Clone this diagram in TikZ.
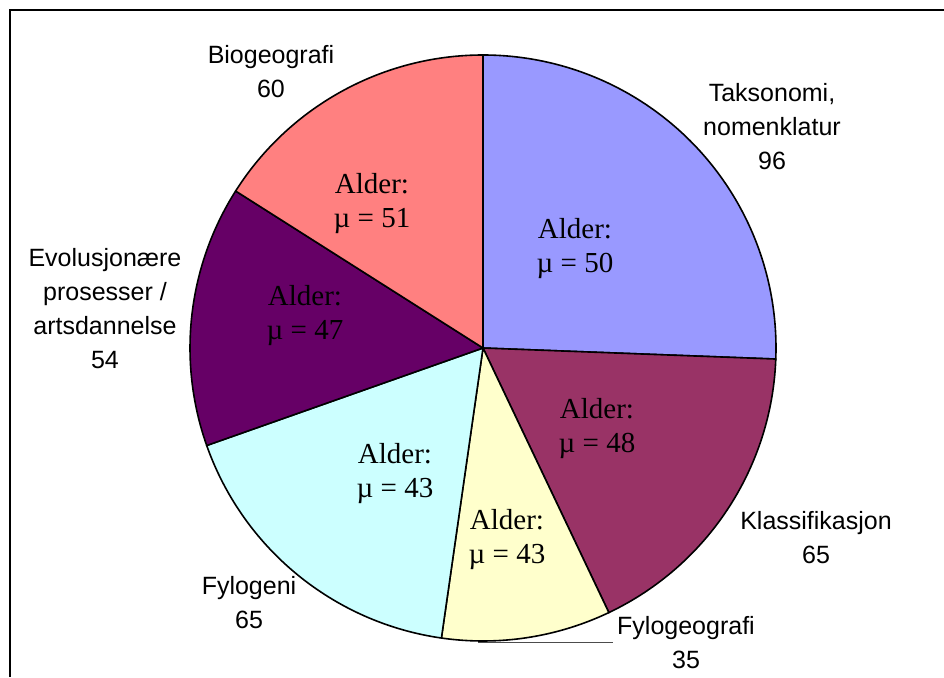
\documentclass[tikz,border=0pt]{standalone}
\usepackage{fontspec}
\setmainfont{Liberation Sans}
\newfontfamily\tmsfont{Liberation Serif}
\definecolor{taks}{HTML}{9999FF}
\definecolor{klas}{HTML}{993366}
\definecolor{fgeo}{HTML}{FFFFCC}
\definecolor{fylo}{HTML}{CCFFFF}
\definecolor{evol}{HTML}{660066}
\definecolor{biog}{HTML}{FF8080}
\begin{document}
\begin{tikzpicture}[x=1pt,y=-1pt,
  slice/.style={draw=black,line width=1.6pt,line join=round},
  outlabel/.style={inner sep=0pt,align=center,font=\fontsize{25}{34}\selectfont},
  inlabel/.style={inner sep=0pt,align=center,font=\tmsfont\fontsize{29}{34}\selectfont},
  leader/.style={draw=black!70,line width=0.8pt}]
\useasboundingbox (0,0) rectangle (944,677);
\fill[white] (0,0) rectangle (944,677);
\draw[line width=1.4pt] (10,677) -- (10,10) -- (944,10);
\coordinate (c) at (483,348);
\def\R{293}
\filldraw[slice,fill=taks] (c) -- ++(-90:\R) arc[start angle=-90,end angle=2.16,radius=\R] -- cycle;
\filldraw[slice,fill=klas] (c) -- ++(2.16:\R) arc[start angle=2.16,end angle=64.56,radius=\R] -- cycle;
\filldraw[slice,fill=fgeo] (c) -- ++(64.56:\R) arc[start angle=64.56,end angle=98.16,radius=\R] -- cycle;
\filldraw[slice,fill=fylo] (c) -- ++(98.16:\R) arc[start angle=98.16,end angle=160.56,radius=\R] -- cycle;
\filldraw[slice,fill=evol] (c) -- ++(160.56:\R) arc[start angle=160.56,end angle=212.4,radius=\R] -- cycle;
\filldraw[slice,fill=biog] (c) -- ++(212.4:\R) arc[start angle=212.4,end angle=270,radius=\R] -- cycle;
% inner labels
\node[inlabel] (itaks) at (575,249) {Alder:\\µ = 50};
\node[inlabel] (iklas) at (597,429) {Alder:\\µ = 48};
\node[inlabel] (ifgeo) at (507,540) {Alder:\\µ = 43};
\node[inlabel] (ifylo) at (395,474) {Alder:\\µ = 43};
\node[inlabel] (ievol) at (305,316) {Alder:\\µ = 47};
\node[inlabel] (ibiog) at (372,204) {Alder:\\µ = 51};
% outer labels
\node[outlabel] (otaks) at (772,127) {Taksonomi,\\nomenklatur\\96};
\node[outlabel] (oklas) at (816,538) {Klassifikasjon\\65};
\node[outlabel] (ofgeo) at (686,643) {Fylogeografi\\35};
\node[outlabel] (ofylo) at (249,603) {Fylogeni\\65};
\node[outlabel] (oevol) at (105,309) {Evolusjonære\\prosesser /\\artsdannelse\\54};
\node[outlabel] (obiog) at (271,72) {Biogeografi\\60};
% leader line
\coordinate (fgedge) at (478,642);
\coordinate (fgend) at (613,642);
\draw[leader] (fgedge) -- (fgend);
\end{tikzpicture}
\end{document}
